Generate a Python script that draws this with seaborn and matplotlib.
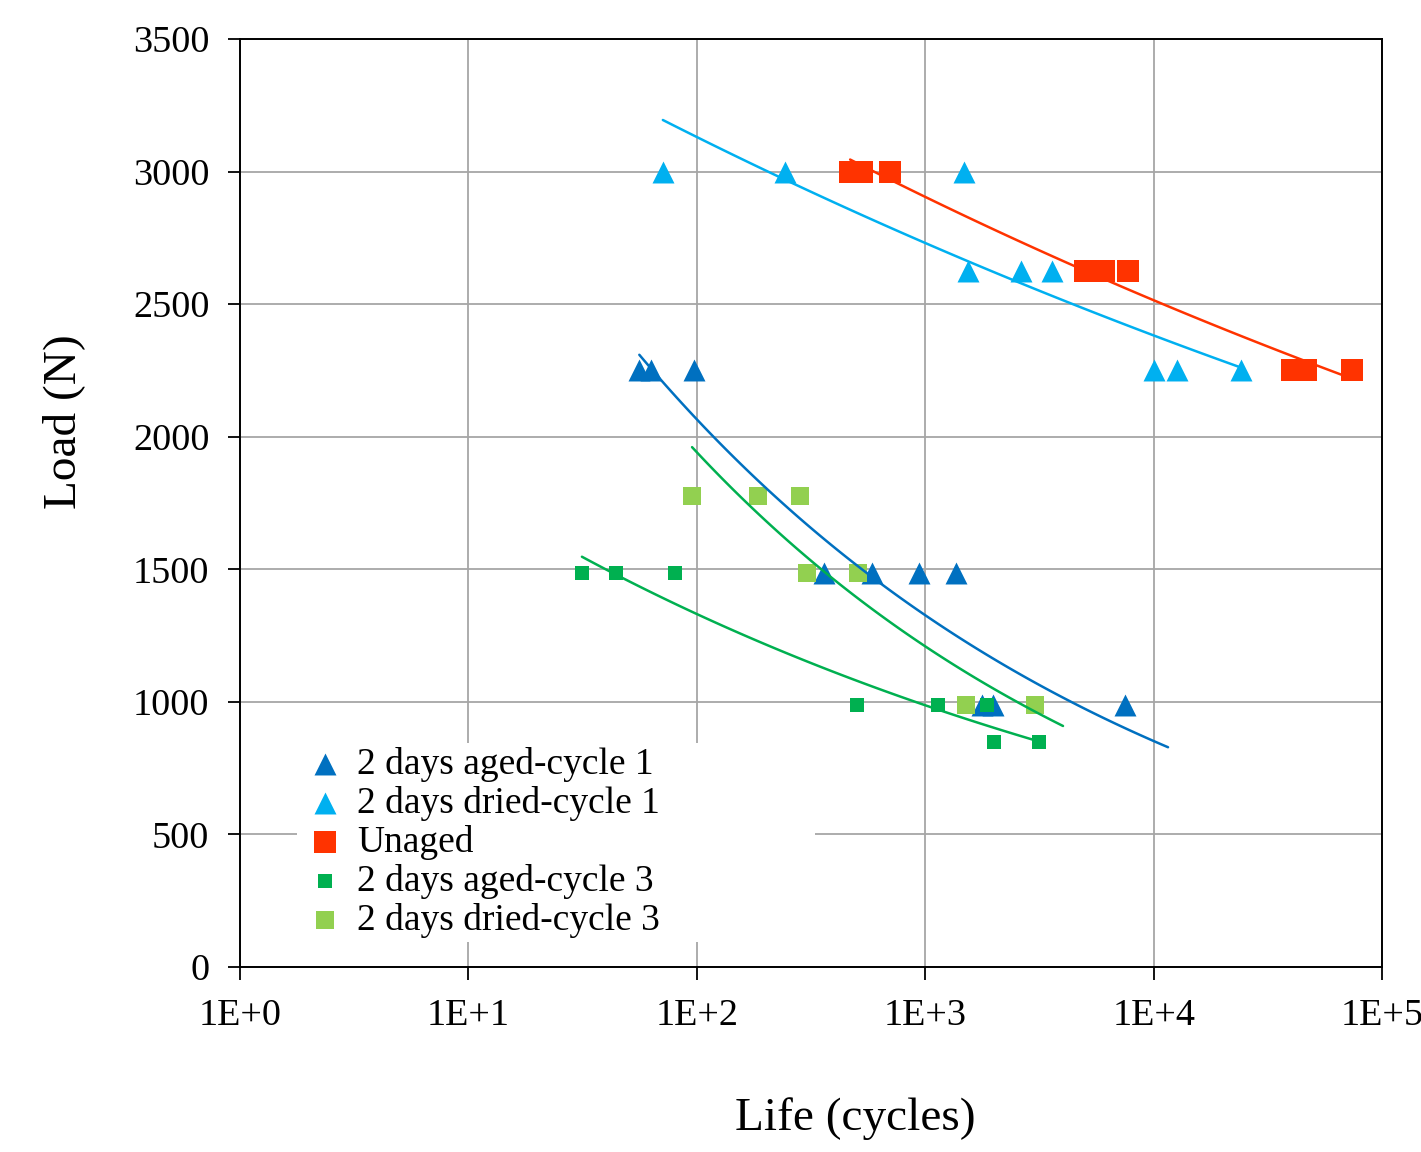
import numpy as np
import pandas as pd
import matplotlib
matplotlib.use("Agg")
import matplotlib.pyplot as plt
import seaborn as sns

# -----------------------------
# Data
# -----------------------------
aged1_life = [56, 63, 97, 361, 585, 939, 1364, 1774, 1982, 7497]
aged1_load = [2250, 2250, 2250, 1485, 1485, 1485, 1485, 990, 990, 990]

dried1_life = [71, 243, 1479, 1539, 2627, 3592, 10040, 12660, 24150]
dried1_load = [3000, 3000, 3000, 2625, 2625, 2625, 2250, 2250, 2250]

unaged_life = [469, 529, 701, 5010, 6067, 7724, 40370, 46470, 73920]
unaged_load = [3000, 3000, 3000, 2625, 2625, 2625, 2250, 2250, 2250]

aged3_life = [31.4, 44.3, 80.3, 503, 1137, 1865, 2001, 3148]
aged3_load = [1485, 1485, 1485, 990, 990, 990, 850, 850]

dried3_life = [95.3, 185, 283, 304, 508, 1510, 3025]
dried3_load = [1775, 1775, 1775, 1485, 1485, 990, 990]

# trendline extent (cycles)
aged1_trend = [56, 11560]
dried1_trend = [71, 24150]
unaged_trend = [469, 73920]
aged3_trend = [31.4, 3148]
dried3_trend = [95.3, 4010]

x_ticks = [1, 10, 100, 1000, 10000, 100000]
x_tick_labels = ["1E+0", "1E+1", "1E+2", "1E+3", "1E+4", "1E+5"]
y_ticks = [0, 500, 1000, 1500, 2000, 2500, 3000, 3500]

# name, x, y, trend range, marker colour, line colour, marker, size
series = [
    ("2 days aged-cycle 1", aged1_life, aged1_load, aged1_trend, "#0070C0", "#0070C0", "^", 250),
    ("2 days dried-cycle 1", dried1_life, dried1_load, dried1_trend, "#00B0F0", "#00B0F0", "^", 250),
    ("Unaged", unaged_life, unaged_load, unaged_trend, "#FF3300", "#FF3300", "s", 250),
    ("2 days aged-cycle 3", aged3_life, aged3_load, aged3_trend, "#00B050", "#00B050", "s", 100),
    ("2 days dried-cycle 3", dried3_life, dried3_load, dried3_trend, "#92D050", "#00B050", "s", 150),
]

# -----------------------------
# Plot
# -----------------------------
sns.set_style("white")
plt.rcParams["font.family"] = ["Liberation Serif", "DejaVu Serif"]
plt.rcParams["text.color"] = "black"
plt.rcParams["axes.labelcolor"] = "black"
plt.rcParams["xtick.color"] = "black"
plt.rcParams["ytick.color"] = "black"

fig = plt.figure(figsize=(14.21, 11.52), dpi=100)
ax = fig.add_axes([0.1689, 0.1606, 0.8037, 0.8055])

for name, life, load, trend, color, lcolor, marker, size in series:
    df = pd.DataFrame({"life": life, "load": load})
    sns.scatterplot(data=df, x="life", y="load", ax=ax, color=color, marker=marker,
                    s=size, linewidth=0, label=name, zorder=3)
    # power-law trendline (Excel style: fit in log-log space)
    b, a = np.polyfit(np.log(life), np.log(load), 1)
    xt = np.logspace(np.log10(trend[0]), np.log10(trend[1]), 100)
    fit = pd.DataFrame({"life": xt, "load": np.exp(a) * xt ** b})
    sns.lineplot(data=fit, x="life", y="load", ax=ax, color=lcolor, linewidth=1.8,
                 zorder=4, legend=False)

ax.set_xscale("log")
ax.set_xlim(1, 100000)
ax.set_ylim(0, 3500)
ax.set_xticks(x_ticks)
ax.set_xticklabels(x_tick_labels)
ax.set_yticks(y_ticks)
ax.minorticks_off()
ax.grid(True, color="#a6a6a6", linewidth=1.3)
ax.set_axisbelow(True)

for sp in ax.spines.values():
    sp.set_color("black")
    sp.set_linewidth(1.4)

ax.tick_params(axis="both", labelsize=27.5, direction="out", length=9, width=1.3,
               color="black", bottom=True, left=True)
ax.tick_params(axis="x", pad=14)
ax.tick_params(axis="y", pad=13)

ax.set_xlabel("Life (cycles)", fontsize=34)
ax.set_ylabel("Load (N)", fontsize=34)
ax.xaxis.set_label_coords(0.539, -0.140)
ax.yaxis.set_label_coords(-0.136, 0.588)

leg = ax.legend(loc="upper left", bbox_to_anchor=(0.0497, 0.024, 0.454, 0.2174),
                mode="expand", borderaxespad=0, fontsize=27, frameon=True,
                fancybox=False, edgecolor="none", facecolor="white", framealpha=1,
                handlelength=1.31, handletextpad=0.2, labelspacing=0.11, borderpad=0.1)

plt.savefig("out.png", dpi=100)
